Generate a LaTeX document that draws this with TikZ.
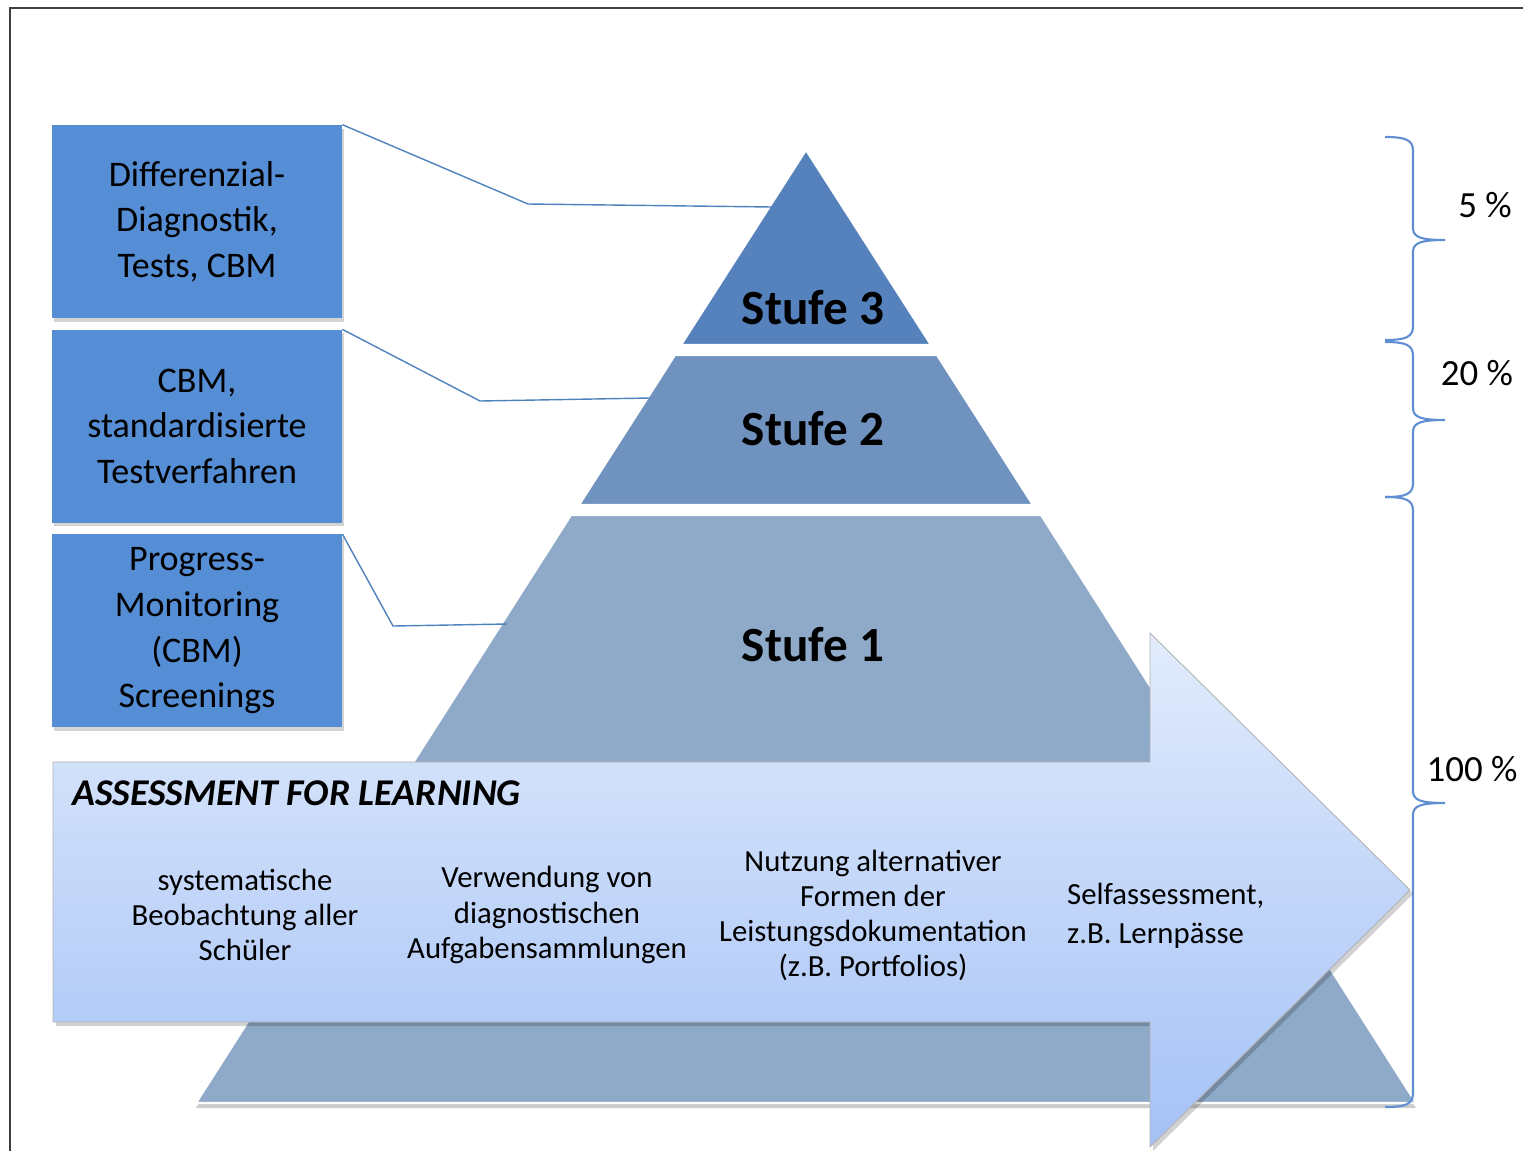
\documentclass[tikz,border=0pt]{standalone}
\usepackage{fontspec}
\setmainfont{Carlito}
\usetikzlibrary{positioning, shadows}

\definecolor{boxblue}{HTML}{558ED5}
\definecolor{tierthree}{HTML}{5582BC}
\definecolor{tiertwo}{HTML}{7092BE}
\definecolor{tierone}{HTML}{8FA9C8}
\definecolor{linkblue}{HTML}{4F81BD}
\definecolor{bracecol}{HTML}{5F8FD2}
\definecolor{arrowtop}{HTML}{E2ECFC}
\definecolor{arrowbot}{HTML}{A4C1F6}

\begin{document}
\begin{tikzpicture}[
        x=0.02cm, y=-0.02cm,
        node distance=0.22cm,
        box/.style={rectangle, fill=boxblue, minimum width=5.8cm, minimum height=3.86cm, align=center, text centered, font=\fontsize{20.5}{26}\selectfont, drop shadow={shadow xshift=1pt, shadow yshift=-2pt, opacity=0.35}},
        tier/.style={draw=white, line width=1.2pt},
        tierlabel/.style={font=\fontsize{28}{32}\selectfont\bfseries},
        link/.style={draw=linkblue, line width=0.8pt},
        brace/.style={draw=bracecol, line width=1.2pt},
        pct/.style={font=\fontsize{21}{24}\selectfont},
        item/.style={align=center, font=\fontsize{17.5}{20}\selectfont}
    ]

    \path[use as bounding box] (0,0) rectangle (1523,1150);
    \clip (0,0) rectangle (1523,1150);

    % frame
    \draw[line width=1.2pt, black!75] (10,1170) -- (10,8) -- (1540,8);

    % pyramid
    \fill[black, opacity=0.2] (571,519) -- (1041,519) -- (1416,1108) -- (196,1108) -- cycle;
    \filldraw[tier, fill=tierthree] (806,150) -- (931,345) -- (681,345) -- cycle;
    \filldraw[tier, fill=tiertwo] (675,355) -- (937,355) -- (1033,505) -- (579,505) -- cycle;
    \filldraw[tier, fill=tierone] (571,515) -- (1041,515) -- (1416,1103) -- (196,1103) -- cycle;

    \node[tierlabel] (stufe3) at (813,308) {Stufe 3};
    \node[tierlabel] (stufe2) at (813,429) {Stufe 2};
    \node[tierlabel] (stufe1) at (813,645) {Stufe 1};

    \coordinate (edge3) at (772,207);
    \coordinate (edge2) at (650,398);
    \coordinate (edge1) at (507,624);

    % boxes on the left
    \node[box] (diag) at (197,221.5) {Differenzial-\\Diagnostik,\\Tests, CBM};
    \node[box, below=of diag] (cbm) {CBM,\\standardisierte\\Testverfahren};
    \node[box, below=of cbm] (progress) {Progress-\\Monitoring\\(CBM)\\Screenings};

    \draw[link] (diag.north east) -- (528,204) -- (edge3);
    \draw[link] (cbm.north east) -- (480,401) -- (edge2);
    \draw[link] (progress.north east) -- (393,626) -- (edge1);

    % big arrow
    \begin{scope}[shift={(3,4)}]
        \fill[black, opacity=0.18] (53,762) -- (1150,762) -- (1150,633) -- (1410,890) -- (1150,1147) -- (1150,1022) -- (53,1022) -- cycle;
    \end{scope}
    \shadedraw[top color=arrowtop, bottom color=arrowbot, draw=gray!60, line width=0.5pt]
        (53,762) -- (1150,762) -- (1150,633) -- (1410,890) -- (1150,1147) -- (1150,1022) -- (53,1022) -- cycle;

    \node[anchor=west, font=\fontsize{21.5}{24}\selectfont\bfseries\itshape] (afl) at (66,793) {ASSESSMENT FOR LEARNING};

    \node[item] (beob) at (245,915) {systematische\\Beobachtung aller\\Schüler};
    \node[item] (aufg) at (547,915) {Verwendung von\\diagnostischen\\Aufgabensammlungen};
    \node[item] (port) at (873,915.5) {Nutzung alternativer\\Formen der\\Leistungsdokumentation\\(z.B. Portfolios)};
    \node[item, align=left, anchor=west, font=\fontsize{17.5}{22}\selectfont] (self) at (1061,916) {Selfassessment,\\z.B. Lernpässe};

    % braces on the right
    \draw[brace] (1385,137) .. controls (1406,137) and (1413,140) .. (1413,151) -- (1413,228)
        .. controls (1413,237) and (1420,240) .. (1445,240)
        .. controls (1420,240) and (1413,243) .. (1413,252) -- (1413,326)
        .. controls (1413,337) and (1406,340) .. (1385,340);
    \draw[brace] (1385,342) .. controls (1406,342) and (1413,345) .. (1413,356) -- (1413,408)
        .. controls (1413,417) and (1420,420) .. (1445,420)
        .. controls (1420,420) and (1413,423) .. (1413,432) -- (1413,483)
        .. controls (1413,494) and (1406,497) .. (1385,497);
    \draw[brace] (1385,497) .. controls (1406,497) and (1413,500) .. (1413,511) -- (1413,791)
        .. controls (1413,800) and (1420,803) .. (1445,803)
        .. controls (1420,803) and (1413,806) .. (1413,815) -- (1413,1093)
        .. controls (1413,1104) and (1406,1107) .. (1385,1107);

    \node[pct] (p5) at (1485,205) {5 \%};
    \node[pct] (p20) at (1477,373) {20 \%};
    \node[pct] (p100) at (1472,769) {100 \%};

\end{tikzpicture}
\end{document}
